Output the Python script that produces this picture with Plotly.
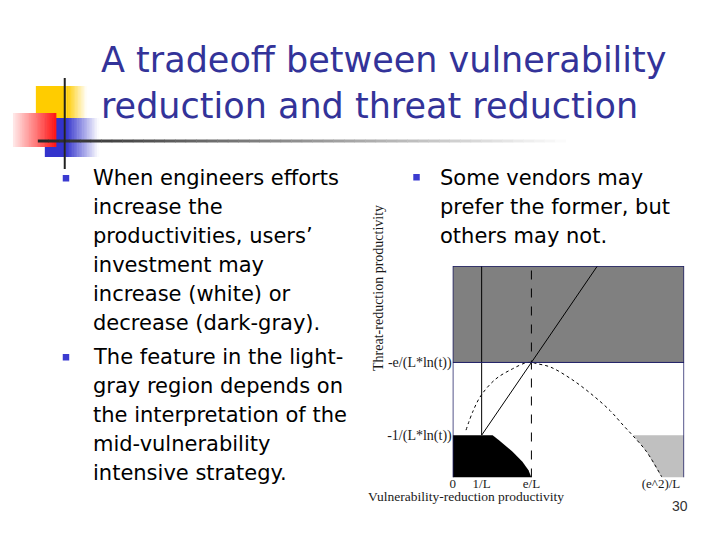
import plotly.graph_objects as go

W, H = 720, 540


def px(x):
    return x / W


def py(y):
    return 1 - y / H


# ---------------- chart data (x in units of 1/L, y in units of -1/(L*ln t)) -----
x_ticks = [0, 1, 2.72, 7.2]
x_tick_text = ["0", "1/L", "e/L", "(e^2)/L"]
y_ticks = [1, 2.72]
y_tick_text = ["-1/(L*ln(t))", "-e/(L*ln(t))"]

# dotted curve
curve_x = [0.46, 0.69, 0.98, 1.49, 2.07, 2.52, 2.72, 2.92, 3.38, 4.07, 4.76, 5.44, 5.90, 6.24, 6.70, 7.22]
curve_y = [1.12, 1.55, 1.94, 2.33, 2.57, 2.71, 2.72, 2.69, 2.61, 2.34, 1.99, 1.58, 1.23, 0.98, 0.61, 0.02]

# black region (investment decreases strongly)
black_x = [0, 0, 1.1, 1.38, 1.6, 2.07, 2.41, 2.62, 2.72]
black_y = [0, 1, 1, 1.0, 0.88, 0.61, 0.37, 0.17, 0]

# light-gray region
lgray_x = [6.24, 8, 8, 7.22, 6.70]
lgray_y = [1, 1, 0, 0, 0.61]

# dark-gray band
dgray_x = [0, 8, 8, 0]
dgray_y = [2.72, 2.72, 5, 5]

# straight lines
diag_x = [1, 5]
diag_y = [1, 5]
vline1_x = [1, 1]
vline1_y = [1, 5]
vline_e_x = [2.72, 2.72]
vline_e_y = [0, 5]

# ---------------- slide text ------------------------------------------------------
title_lines = ["A tradeoff between vulnerability", "reduction and threat reduction"]
left_bullet1 = ["When engineers efforts", "increase the", "productivities, users’",
                "investment may", "increase (white) or", "decrease (dark-gray)."]
left_bullet2 = ["The feature in the light-", "gray region depends on", "the interpretation of the",
                "mid-vulnerability", "intensive strategy."]
right_bullet = ["Some vendors may", "prefer the former, but", "others may not."]

fig = go.Figure()

fill_style = dict(mode="lines", line=dict(width=0), fill="toself", hoverinfo="skip", showlegend=False)
fig.add_trace(go.Scatter(x=dgray_x, y=dgray_y, fillcolor="#808080", **fill_style))
fig.add_trace(go.Scatter(x=black_x, y=black_y, fillcolor="#000000", **fill_style))
fig.add_trace(go.Scatter(x=lgray_x, y=lgray_y, fillcolor="#c0c0c0", **fill_style))

fig.add_trace(go.Scatter(x=curve_x, y=curve_y, mode="lines", line=dict(color="black", width=1, dash="dot", shape="spline"),
                         showlegend=False, hoverinfo="skip"))
fig.add_trace(go.Scatter(x=diag_x, y=diag_y, mode="lines", line=dict(color="black", width=1), showlegend=False))
fig.add_trace(go.Scatter(x=vline1_x, y=vline1_y, mode="lines", line=dict(color="black", width=1), showlegend=False))
fig.add_trace(go.Scatter(x=vline_e_x, y=vline_e_y, mode="lines", line=dict(color="black", width=1, dash="dash"),
                         showlegend=False))
fig.add_trace(go.Scatter(x=[0, 8], y=[2.72, 2.72], mode="lines", line=dict(color="#1c1c64", width=1), showlegend=False))
# frame: left, top, right
fig.add_trace(go.Scatter(x=[0, 0, 8, 8], y=[0, 5, 5, 0], mode="lines", line=dict(color="#1c1c64", width=1.5),
                         showlegend=False))

serif = "Liberation Serif"
fig.update_layout(
    width=W, height=H,
    margin=dict(l=0, r=0, t=0, b=0),
    paper_bgcolor="white", plot_bgcolor="white",
    showlegend=False,
    xaxis=dict(domain=[px(451.6), px(684)], range=[0, 8], tickvals=x_ticks, ticktext=x_tick_text,
               showgrid=False, zeroline=False, showline=False, ticks="", ticklabelstandoff=-4,
               tickfont=dict(family=serif, size=13, color="#1a1a1a")),
    yaxis=dict(domain=[py(477.5), py(266)], range=[0, 5], tickvals=y_ticks, ticktext=y_tick_text,
               showgrid=False, zeroline=False, showline=False, ticks="", ticklabelstandoff=0,
               tickfont=dict(family=serif, size=14, color="#1a1a1a")),
)

ann = []
ann.append(dict(x=px(377), y=py(372.5), text="Threat-reduction productivity", textangle=-90, showarrow=False,
                font=dict(family=serif, size=14, color="#1a1a1a"), xref="paper", yref="paper"))
ann.append(dict(x=px(564.5), y=py(505), text="Vulnerability-reduction productivity", showarrow=False, borderpad=0,
                font=dict(family=serif, size=13.5, color="#1a1a1a"), xref="paper", yref="paper"))

sans = "DejaVu Sans"
for i, t in enumerate(title_lines):
    ann.append(dict(x=px(96), y=py(60 + 46 * i), text=t, showarrow=False, xanchor="left", yanchor="middle",
                    font=dict(family=sans, size=35, color="#333399"), xref="paper", yref="paper"))

lh = 28.9
for i, t in enumerate(left_bullet1):
    ann.append(dict(x=px(88), y=py(178 + lh * i), text=t, showarrow=False, xanchor="left", yanchor="middle",
                    font=dict(family=sans, size=21, color="black"), xref="paper", yref="paper"))
for i, t in enumerate(left_bullet2):
    ann.append(dict(x=px(88), y=py(357 + lh * i), text=t, showarrow=False, xanchor="left", yanchor="middle",
                    font=dict(family=sans, size=21, color="black"), xref="paper", yref="paper"))
for i, t in enumerate(right_bullet):
    ann.append(dict(x=px(437), y=py(178 + lh * i), text=t, showarrow=False, xanchor="left", yanchor="middle",
                    font=dict(family=sans, size=21, color="black"), xref="paper", yref="paper"))
ann.append(dict(x=px(689.5), y=py(516), text="30", showarrow=False,
                font=dict(family="Liberation Sans", size=14, color="#333333"), xref="paper", yref="paper"))
fig.update_layout(annotations=ann)

shapes = []


def rect(x0, y0, x1, y1, color):
    shapes.append(dict(type="rect", xref="paper", yref="paper", x0=px(x0), x1=px(x1), y0=py(y1), y1=py(y0),
                       fillcolor=color, line=dict(width=0), layer="above"))


def mix(c0, c1, t):
    return "rgb(%d,%d,%d)" % tuple(round(a + (b - a) * t) for a, b in zip(c0, c1))


def grad(x0, y0, x1, y1, c0, c1, n):
    dx = (x1 - x0) / n
    for i in range(n):
        rect(x0 + i * dx, y0, x0 + (i + 1) * dx + 0.6, y1, mix(c0, c1, (i + 0.5) / n))


white = (255, 255, 255)
# yellow square
rect(33, 86, 64, 118, "#ffcc00")
grad(64, 86, 84, 118, (255, 204, 0), white, 14)
# blue square
rect(42, 118, 63, 157, "#3333cc")
grad(63, 118, 96, 157, (51, 51, 204), white, 20)
# red rectangle (pale left -> red right)
grad(10, 113, 53, 147, (255, 235, 235), (255, 20, 20), 24)
# bullets
for bx, by in [(60, 175), (60, 354), (412, 174)]:
    rect(bx, by, bx + 6.5, by + 6.5, "#3b3bd0")

# horizontal gradient line under title
n = 50
x0, x1 = 35, 565
for i in range(n):
    xa = x0 + (x1 - x0) * i / n
    xb = x0 + (x1 - x0) * (i + 1) / n
    shapes.append(dict(type="line", xref="paper", yref="paper", x0=px(xa), x1=px(xb + 0.5), y0=py(141), y1=py(141),
                       line=dict(color=mix((40, 40, 40), white, i / n), width=3), layer="above"))
# vertical black line
shapes.append(dict(type="line", xref="paper", yref="paper", x0=px(62), x1=px(62), y0=py(78), y1=py(169),
                   line=dict(color="#222222", width=2), layer="above"))
fig.update_layout(shapes=shapes)

fig.write_html("out.html", config={"displayModeBar": False},
               post_script="document.body.style.margin='0px';document.body.style.overflow='hidden';")
